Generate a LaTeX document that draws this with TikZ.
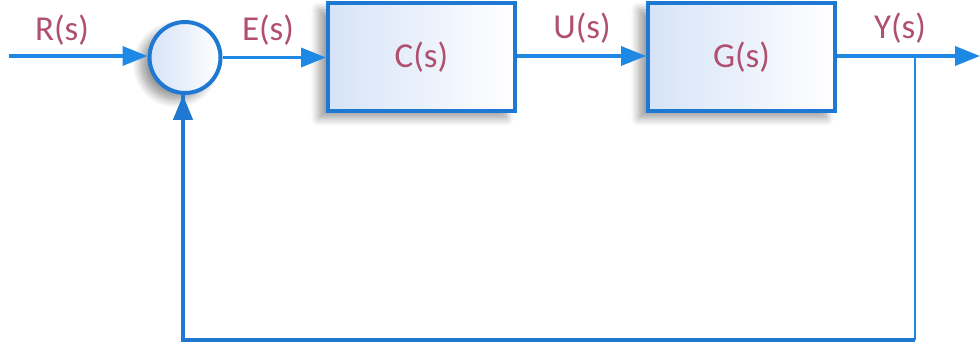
\documentclass[tikz,border=0pt]{standalone}
\usepackage{fontspec}
\setmainfont{Carlito}
\usetikzlibrary{arrows.meta,shadows.blur}
\definecolor{sig}{HTML}{1E88E5}
\definecolor{frame}{HTML}{1F78D1}
\definecolor{lbl}{HTML}{B0506F}
\definecolor{tint}{HTML}{D6E3F8}
\tikzset{
  softshadow/.style={blur shadow={shadow xshift=-9pt, shadow yshift=-7pt,
    shadow blur radius=8pt, shadow blur steps=10, shadow opacity=40}},
  blockbox/.style={draw=frame, line width=4pt, minimum width=187pt, minimum height=108pt,
    left color=tint, middle color=tint!35!white, right color=white, text=lbl,
    font=\fontsize{35}{40}\selectfont, softshadow},
  sumnode/.style={circle, draw=frame, line width=4pt, minimum size=71pt, inner sep=0pt,
    left color=tint, middle color=tint!30!white, right color=white, softshadow},
  signal/.style={draw=sig, line width=3.5pt, -{Triangle[length=25pt,width=19pt]}},
  sigtext/.style={text=lbl, font=\fontsize{35}{40}\selectfont}
}
\begin{document}
\begin{tikzpicture}[x=1pt,y=-1pt]
  \useasboundingbox (0,0) rectangle (980,347);
  % blocks and summing junction
  \node[sumnode] (sum) at (185,57.5) {};
  \node[blockbox] (C) at (421.5,57) {C(s)};
  \node[blockbox] (G) at (741.5,57) {G(s)};
  % reference and output ends
  \coordinate (rin) at (9,56);
  \coordinate (yout) at (980,56);
  \coordinate (tap) at (915,56);
  \coordinate (fbR) at (915,340);
  \coordinate (fbL) at (183,340);
  % forward path
  \draw[signal] (rin) -- (sum.west |- rin);
  \draw[signal] (sum.east) -- (C.west |- sum.east);
  \draw[signal] (C.east |- 0,56) -- (G.west |- 0,56);
  \draw[signal] (G.east |- 0,56) -- (yout);
  % feedback path
  \draw[draw=sig, line width=1.8pt] (tap) -- (fbR);
  \draw[draw=frame, line width=4.5pt] (fbR) -- (fbL) -- (fbL |- sum.south);
  \draw[signal, line width=4.5pt, draw=frame] (fbL |- 0,250) -- (fbL |- sum.south);
  % signal names
  \node[sigtext] (Rl) at (62,30) {R(s)};
  \node[sigtext] (El) at (268,30) {E(s)};
  \node[sigtext] (Ul) at (582,28) {U(s)};
  \node[sigtext] (Yl) at (900,28) {Y(s)};
\end{tikzpicture}
\end{document}
